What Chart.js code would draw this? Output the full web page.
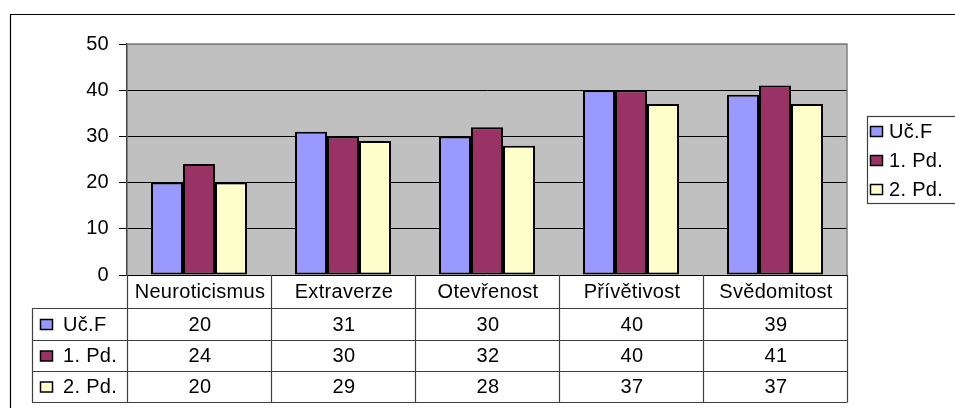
<!DOCTYPE html>
<html>
<head>
<meta charset="utf-8">
<title>Osobnostní faktory</title>
<script src="https://cdn.jsdelivr.net/npm/chart.js@4.4.1/dist/chart.umd.min.js"></script>
<style>
  html, body { margin: 0; padding: 0; background: #fff; }
  canvas { display: block; }
</style>
</head>
<body>
<canvas id="myChart" width="955" height="408"></canvas>
<script>
var categories = ["Neuroticismus", "Extraverze", "Otevřenost", "Přívětivost", "Svědomitost"];
var seriesNames = ["Uč.F", "1. Pd.", "2. Pd."];
var ucF = [20, 31, 30, 40, 39];
var pd1 = [24, 30, 32, 40, 41];
var pd2 = [20, 29, 28, 37, 37];
var yTicks = [0, 10, 20, 30, 40, 50];
var barColors = ["#9999FF", "#993366", "#FFFFCC"];

var FAMILY = '"Liberation Sans", Arial, sans-serif';
var FONT = '20px ' + FAMILY;
var SPACING = '0.3px';

// gray plot background, outer frame and lettering for all text
var frame = {
  id: 'frame',
  beforeDraw: function (chart) {
    var ctx = chart.ctx;
    var a = chart.chartArea;
    ctx.save();
    ctx.fillStyle = '#fff';
    ctx.fillRect(0, 0, chart.width, chart.height);
    ctx.strokeStyle = '#000';
    ctx.lineWidth = 1.2;
    ctx.beginPath();
    ctx.moveTo(10.5, chart.height + 2);
    ctx.lineTo(10.5, 14.5);
    ctx.lineTo(chart.width + 2, 14.5);
    ctx.stroke();
    ctx.fillStyle = '#C0C0C0';
    ctx.fillRect(a.left, a.top, a.right - a.left, a.bottom - a.top);
    ctx.restore();
    ctx.letterSpacing = SPACING;
  },
  afterDatasetsDraw: function (chart) {
    var ctx = chart.ctx;
    var a = chart.chartArea;
    ctx.save();
    ctx.strokeStyle = '#808080';
    ctx.lineWidth = 1.5;
    ctx.beginPath();
    ctx.moveTo(a.left, a.top);
    ctx.lineTo(a.right, a.top);
    ctx.lineTo(a.right, a.bottom);
    ctx.stroke();
    ctx.restore();
  }
};

function keyBox(ctx, x, y, color) {
  ctx.fillStyle = color;
  ctx.fillRect(x, y - 5, 12, 10);
  ctx.strokeStyle = '#000';
  ctx.lineWidth = 1.5;
  ctx.strokeRect(x, y - 5, 12, 10);
}

// data table under the axis, columns follow the category scale
var dataTable = {
  id: 'dataTable',
  afterDraw: function (chart) {
    var ctx = chart.ctx;
    var a = chart.chartArea;
    var xs = chart.scales.x;
    var rows = [a.bottom, 308, 340, 371, 402];
    var tableLeft = 32;
    var step = (a.right - a.left) / categories.length;
    var values = [ucF, pd1, pd2];

    ctx.save();
    ctx.letterSpacing = SPACING;
    ctx.strokeStyle = '#404040';
    ctx.lineWidth = 1.2;
    ctx.beginPath();
    for (var r = 1; r < rows.length; r++) {
      ctx.moveTo(tableLeft, rows[r] + 0.5);
      ctx.lineTo(a.right, rows[r] + 0.5);
    }
    for (var c = 0; c <= categories.length; c++) {
      var x = Math.round(a.left + c * step) + 0.5;
      ctx.moveTo(x, a.bottom);
      ctx.lineTo(x, rows[4] + 0.5);
    }
    ctx.moveTo(tableLeft + 0.5, rows[1]);
    ctx.lineTo(tableLeft + 0.5, rows[4] + 0.5);
    ctx.stroke();

    ctx.font = FONT;
    ctx.fillStyle = '#000';
    ctx.textBaseline = 'middle';
    ctx.textAlign = 'center';
    categories.forEach(function (name, i) {
      var cx = xs.getPixelForValue(i) + 1;
      ctx.fillText(name, cx, (rows[0] + rows[1]) / 2 + 1);
      for (var s = 0; s < values.length; s++) {
        ctx.fillText(String(values[s][i]), cx, (rows[s + 1] + rows[s + 2]) / 2 + 1);
      }
    });

    ctx.textAlign = 'left';
    seriesNames.forEach(function (name, s) {
      var cy = (rows[s + 1] + rows[s + 2]) / 2;
      keyBox(ctx, 40.5, cy + 0.5, barColors[s]);
      ctx.fillStyle = '#000';
      ctx.fillText(name, 63, cy + 1);
    });

    // legend box on the right
    ctx.strokeStyle = '#404040';
    ctx.lineWidth = 1.2;
    ctx.strokeRect(867.5, 116.5, 120, 87);
    var ly = [131, 160, 189];
    seriesNames.forEach(function (name, s) {
      keyBox(ctx, 870.5, ly[s] + 0.5, barColors[s]);
      ctx.fillStyle = '#000';
      ctx.fillText(name, 889, ly[s] + 1);
    });
    ctx.restore();
  }
};

new Chart("myChart", {
  type: "bar",
  data: {
    labels: categories,
    datasets: seriesNames.map(function (name, s) {
      return {
        label: name,
        data: [ucF, pd1, pd2][s],
        backgroundColor: barColors[s],
        borderColor: "#000",
        borderWidth: 2,
        borderSkipped: false,
        categoryPercentage: 0.667,
        barPercentage: 1
      };
    })
  },
  options: {
    responsive: false,
    animation: false,
    devicePixelRatio: 1,
    layout: { padding: { left: 0, top: 44, right: 108, bottom: 133 } },
    plugins: {
      legend: { display: false },
      tooltip: { enabled: false }
    },
    scales: {
      x: {
        display: false
      },
      y: {
        min: 0,
        max: 50,
        afterFit: function (scale) { scale.width = 127; },
        afterBuildTicks: function (scale) {
          scale.ticks = yTicks.map(function (v) { return { value: v }; });
        },
        ticks: {
          color: "#000",
          padding: 10,
          font: { family: FAMILY, size: 20 }
        },
        grid: {
          color: function (c) { return c.tick && c.tick.value === 50 ? "#808080" : "#000"; },
          lineWidth: 1,
          tickLength: 8,
          tickColor: "#000"
        },
        border: { display: true, color: "#404040", width: 1.5 }
      }
    }
  },
  plugins: [frame, dataTable]
});
</script>
</body>
</html>
